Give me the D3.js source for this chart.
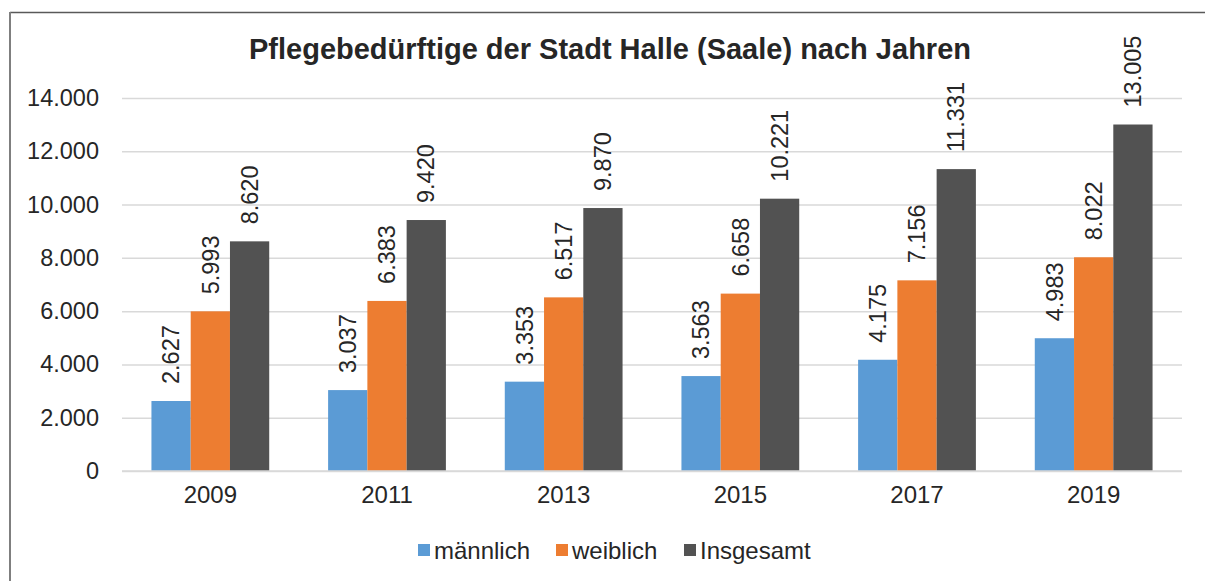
<!DOCTYPE html>
<html>
<head>
<meta charset="utf-8">
<script src="https://cdn.jsdelivr.net/npm/d3@7"></script>
<style>
  body { margin: 0; background: #fff; }
  svg { display: block; font-family: Arial, "Liberation Sans", sans-serif; }
</style>
</head>
<body>
<svg id="chart" width="1205" height="581"></svg>
<script>
const years = ["2009", "2011", "2013", "2015", "2017", "2019"]
const seriesNames = ["männlich", "weiblich", "Insgesamt"]
const maennlich = [2627, 3037, 3353, 3563, 4175, 4983]
const weiblich = [5993, 6383, 6517, 6658, 7156, 8022]
const insgesamt = [8620, 9420, 9870, 10221, 11331, 13005]
const yTicks = [0, 2000, 4000, 6000, 8000, 10000, 12000, 14000]
const colors = ["#5B9BD5", "#ED7D31", "#525252"]

const title = "Pflegebedürftige der Stadt Halle (Saale) nach Jahren"

// table built from the arrays above
const values = [maennlich, weiblich, insgesamt]
const data = years.map((y, i) => ({
    year: y,
    vals: seriesNames.map((s, k) => ({ key: s, value: values[k][i] }))
}))

const de = d3.formatLocale({ decimal: ",", thousands: ".", grouping: [3], currency: ["", " €"] })
const fmt = de.format(",d")

const Fig = d3.select("#chart")

// frame (top + left edge of the cut chart box)
Fig.append("line").attr("x1", 10).attr("x2", 1205).attr("y1", 12.5).attr("y2", 12.5)
    .attr("stroke", "#595959").attr("stroke-width", 1.5)
Fig.append("line").attr("x1", 10).attr("x2", 10).attr("y1", 12).attr("y2", 581)
    .attr("stroke", "#7f7f7f").attr("stroke-width", 2)

const x = d3.scaleBand().domain(years).range([122, 1182]).padding(0)
const barW = x.bandwidth() / 4.5  // gap width 150%
const x1 = d3.scaleBand().domain(seriesNames)
    .range([barW * 0.75, x.bandwidth() - barW * 0.75]).padding(0)
const y = d3.scaleLinear().domain([0, 14000]).range([471, 98])
const color = d3.scaleOrdinal().domain(seriesNames).range(colors)

// grid
const y_axis = d3.axisLeft(y).tickValues(yTicks).tickSize(-(1182 - 122)).tickFormat(fmt).tickPadding(23)
const gy = Fig.append("g").attr("transform", `translate(122,0)`).call(y_axis)
gy.select(".domain").remove()
gy.selectAll(".tick line").attr("stroke", "#d9d9d9").attr("stroke-width", 1.5)
gy.selectAll(".tick text").attr("fill", "#262626").attr("font-size", 23.5)

// x axis labels
const x_axis = d3.axisBottom(x).tickSize(0).tickPadding(15)
const gx = Fig.append("g").attr("transform", `translate(0,${y(0)})`).call(x_axis)
gx.select(".domain").remove()
gx.selectAll(".tick text").attr("fill", "#262626").attr("font-size", 24)

// bars
const groups = Fig.selectAll(".grp")
    .data(data)
    .join("g")
    .attr("class", "grp")
    .attr("transform", d => `translate(${x(d.year)},0)`)

groups.selectAll("rect")
    .data(d => d.vals)
    .join("rect")
    .attr("x", d => x1(d.key))
    .attr("width", x1.bandwidth())
    .attr("y", d => y(d.value))
    .attr("height", d => y(0) - y(d.value))
    .attr("fill", d => color(d.key))

// value labels, rotated
groups.selectAll(".val")
    .data(d => d.vals)
    .join("text")
    .attr("class", "val")
    .attr("transform", d => `translate(${x1(d.key) + x1.bandwidth() / 2},${y(d.value) - 17}) rotate(-90)`)
    .attr("dy", "0.35em")
    .attr("font-size", 23.5)
    .attr("fill", "#262626")
    .text(d => fmt(d.value))

// baseline on top of bars
Fig.append("line").attr("x1", 122).attr("x2", 1182).attr("y1", y(0)).attr("y2", y(0))
    .attr("stroke", "#d9d9d9").attr("stroke-width", 1.5)

// title
Fig.append("text")
    .attr("x", 610)
    .attr("y", 59)
    .attr("text-anchor", "middle")
    .attr("font-size", 29)
    .attr("font-weight", "bold")
    .attr("fill", "#262626")
    .text(title)

// legend
const legendPos = [418, 556, 684]
const legend = Fig.append("g")
const items = legend.selectAll("g")
    .data(seriesNames)
    .join("g")
    .attr("transform", (d, i) => `translate(${legendPos[i]},544)`)
items.append("rect").attr("width", 12).attr("height", 12).attr("fill", d => color(d))
items.append("text")
    .attr("x", 16).attr("y", 14.5)
    .attr("font-size", 24)
    .attr("fill", "#262626")
    .text(d => d)
</script>
</body>
</html>
